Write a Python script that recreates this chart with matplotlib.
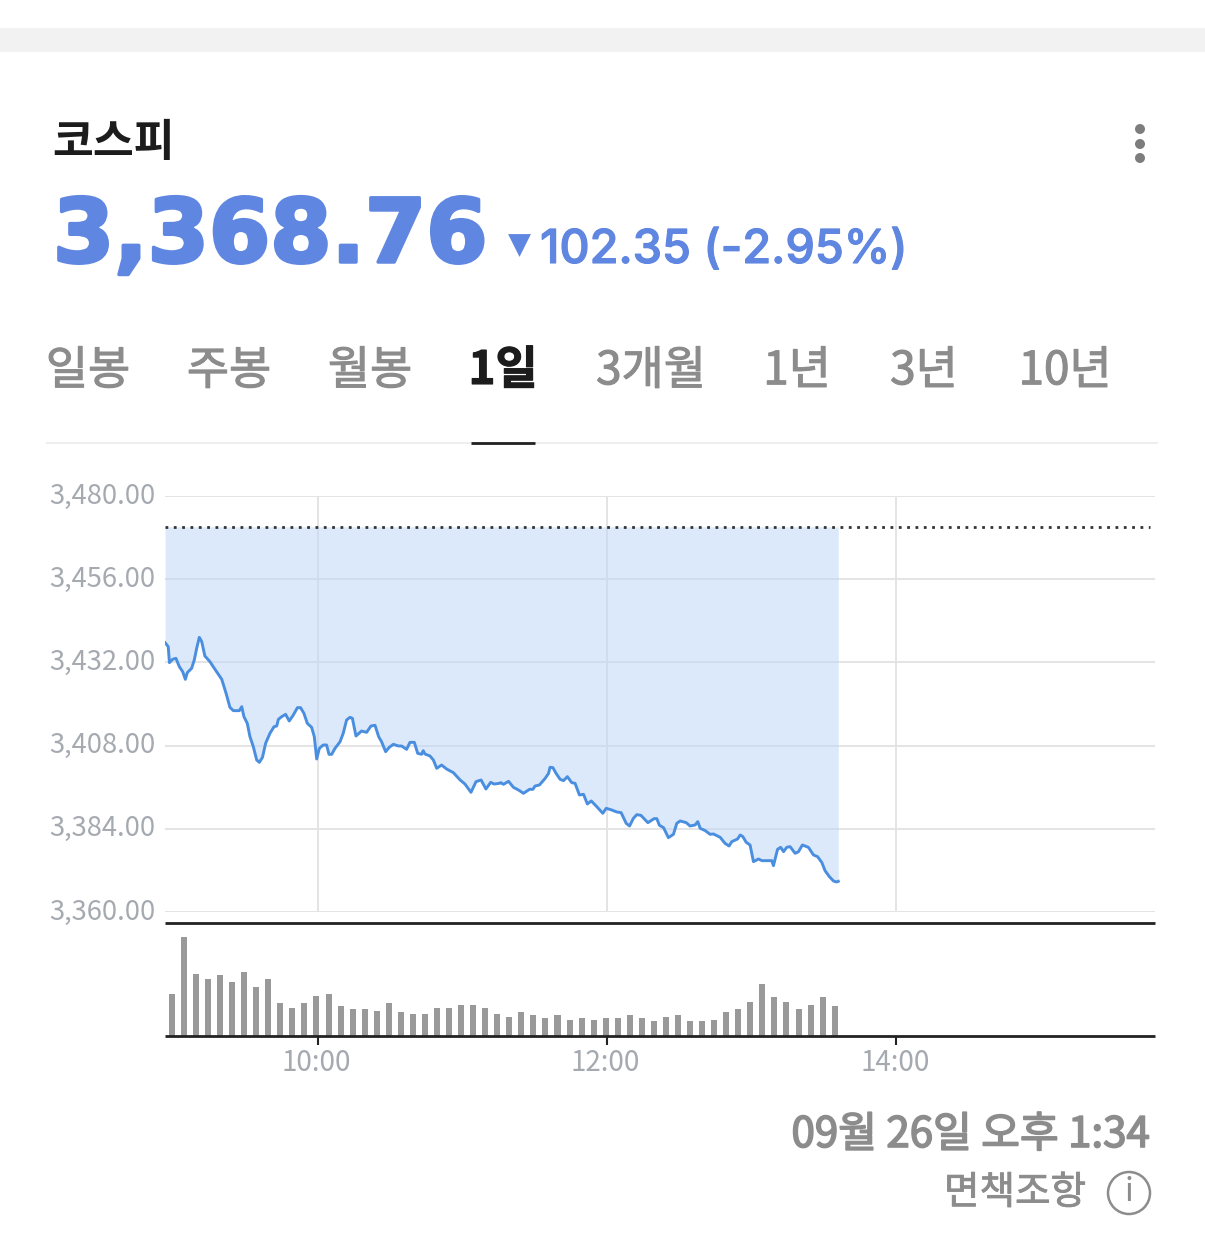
import numpy as np
import matplotlib.pyplot as plt
import matplotlib.patheffects as pe
from matplotlib.patches import Circle, Rectangle
from matplotlib.transforms import ScaledTranslation

plt.rcParams['font.family'] = ['Noto Sans CJK KR', 'DejaVu Sans']

# minutes after 09:00 and index level
price_t = [-3.4, -2.1, -1.6, -0.3, 1.1, 2.5, 3.9, 5.0, 5.8, 7.6, 8.7, 9.7, 10.8, 11.8, 13.1, 15.2, 17.3, 20.1,
           21.9, 23.5, 24.9, 27.4, 28.4, 29.3, 30.7, 31.8, 33.2, 34.6, 35.7, 37.0, 38.3, 40.1, 41.8, 42.9, 43.6,
           45.0, 46.6, 48.1, 49.8, 51.5, 52.8, 54.2, 55.6, 57.4, 58.5, 59.5, 60.6, 62.2, 63.6, 64.6, 65.7, 67.1,
           69.2, 70.5, 71.9, 73.3, 74.3, 75.8, 78.1, 80.2, 82.0, 83.7, 85.2, 86.4, 88.1, 89.6, 91.3, 93.4, 94.7,
           96.8, 98.2, 100.0, 101.4, 103.0, 103.7, 104.4, 106.5, 107.9, 109.3, 111.3, 113.4, 116.2, 119.0, 121.0,
           123.5, 125.6, 127.7, 129.7, 131.7, 133.1, 135.3, 135.9, 137.0, 139.1, 141.1, 143.2, 145.3, 147.8, 149.2,
           150.1, 151.9, 154.3, 155.7, 156.3, 157.5, 158.8, 160.5, 161.9, 163.5, 165.3, 166.7, 168.5, 170.2, 171.8,
           173.4, 175.7, 178.2, 179.6, 181.9, 184.0, 185.8, 187.9, 189.3, 190.9, 192.3, 194.0, 196.9, 199.5, 200.6,
           201.7, 203.4, 205.4, 207.5, 208.9, 210.3, 212.8, 214.4, 216.5, 217.6, 218.6, 220.7, 222.7, 224.1, 226.9,
           228.9, 230.6, 231.7, 234.1, 235.2, 236.3, 237.7, 239.3, 240.7, 242.8, 244.2, 246.2, 248.3, 249.0, 250.7,
           252.0, 253.2, 254.5, 255.9, 258.0, 259.4, 261.0, 263.5, 265.6, 267.3, 269.1, 270.4, 272.2, 273.9, 275.2,
           275.9]
price = [3437.69, 3436.54, 3431.92, 3432.88, 3433.17, 3430.77, 3429.33, 3427.12, 3429.04, 3430.29, 3432.69, 3436.06,
         3439.23, 3437.98, 3433.85, 3432.21, 3430.00, 3427.12, 3423.08, 3419.04, 3418.08, 3418.08, 3419.23, 3416.35,
         3414.42, 3410.58, 3407.69, 3403.85, 3403.17, 3404.62, 3408.65, 3411.54, 3413.46, 3413.65, 3415.58, 3416.35,
         3417.02, 3415.10, 3416.83, 3418.94, 3418.94, 3417.31, 3414.42, 3413.27, 3410.58, 3404.14, 3407.21, 3408.17,
         3408.17, 3405.48, 3405.48, 3407.21, 3409.13, 3411.54, 3415.39, 3416.15, 3415.87, 3410.77, 3412.21, 3411.83,
         3413.65, 3413.85, 3410.58, 3409.13, 3406.25, 3407.50, 3408.37, 3407.89, 3407.89, 3406.92, 3408.94, 3408.94,
         3405.77, 3405.48, 3406.54, 3405.58, 3405.00, 3403.85, 3401.44, 3402.40, 3401.25, 3400.19, 3398.08, 3396.92,
         3394.52, 3397.60, 3398.08, 3395.48, 3397.40, 3396.92, 3397.12, 3397.31, 3396.83, 3397.70, 3395.97, 3395.20,
         3394.24, 3395.39, 3395.39, 3396.35, 3396.64, 3398.56, 3400.00, 3401.74, 3401.64, 3400.00, 3398.27, 3397.89,
         3399.04, 3397.31, 3397.12, 3393.76, 3393.95, 3391.16, 3392.03, 3390.39, 3388.47, 3389.91, 3389.43, 3388.85,
         3388.66, 3385.58, 3384.81, 3387.02, 3388.08, 3387.89, 3385.77, 3386.93, 3386.93, 3385.00, 3384.33, 3381.45,
         3382.41, 3385.58, 3386.26, 3385.78, 3384.81, 3385.10, 3386.06, 3384.14, 3383.47, 3382.41, 3382.51, 3381.54,
         3379.81, 3379.04, 3380.29, 3381.06, 3382.22, 3381.74, 3380.10, 3379.33, 3374.53, 3375.29, 3374.81, 3374.81,
         3374.81, 3373.37, 3378.08, 3378.66, 3377.41, 3378.66, 3378.85, 3376.93, 3377.41, 3379.33, 3378.66, 3376.45,
         3375.97, 3374.24, 3371.93, 3370.20, 3368.95, 3368.66, 3368.85]
prev_close = 3471.11

# 5 minute volume bars, relative height
volume = [125, 297, 187, 170, 183, 161, 192, 148, 170, 98, 85, 98, 120, 125, 89, 80, 80, 76, 98, 71, 67, 67, 85, 85,
          93, 93, 85, 67, 58, 71, 62, 53, 62, 49, 53, 49, 53, 53, 62, 53, 44, 58, 62, 44, 44, 49, 71, 80, 102, 156,
          116, 102, 80, 93, 116, 89]
volume_t = [-0.6 + 5 * i for i in range(len(volume))]

y_ticks = [3360, 3384, 3408, 3432, 3456, 3480]
y_labels = ['3,360.00', '3,384.00', '3,408.00', '3,432.00', '3,456.00', '3,480.00']
x_ticks = [60, 180, 300]
x_labels = ['10:00', '12:00', '14:00']
tabs = ['일봉', '주봉', '월봉', '1일', '3개월', '1년', '3년', '10년']
tab_x = [88, 229, 370, 503, 651, 797, 924, 1065]

W, H = 1205, 1233
fig = plt.figure(figsize=(W / 100, H / 100), dpi=100)


def box(left, top, right, bottom):
    return [left / W, 1 - bottom / H, (right - left) / W, (bottom - top) / H]


def thick(color, w):
    return [pe.withStroke(linewidth=w, foreground=color)]


bg = fig.add_axes([0, 0, 1, 1])
bg.set_xlim(0, W)
bg.set_ylim(H, 0)
bg.axis('off')

bg.add_patch(Rectangle((0, 28), W, 24, color='#f2f2f2', lw=0))
bg.text(52, 143, '코스피', fontsize=32, fontweight='bold', color='#1c1c1c', va='center')
bg.text(53, 238, '3,368.76', fontsize=63.4, fontweight='bold', color='#5f86e0', va='center', family='DejaVu Sans',
        path_effects=thick('#5f86e0', 2.5))
bg.scatter([519], [245], marker='v', s=270, color='#5f86e0', lw=0)
bg.text(540, 251, '102.35 (-2.95%)', fontsize=33.7, fontweight='medium', color='#5f86e0', va='center', family='Inter',
        path_effects=thick('#5f86e0', 0.8))
for yy in [129, 144, 158]:
    bg.add_patch(Circle((1140, yy), 5, color='#7d7d7d', lw=0))

for i in range(len(tabs)):
    active = tabs[i] == '1일'
    c = '#1c1c1c' if active else '#8c8c8c'
    bg.text(tab_x[i], 371, tabs[i], fontsize=33, ha='center', va='center',
            fontweight='bold' if active else 'normal', color=c, path_effects=thick(c, 0.8))
bg.plot([47, 1157], [443, 443], color='#eeeeee', lw=1.5)
bg.plot([471, 535], [443, 443], color='#222222', lw=2, solid_capstyle='butt')

bg.text(1150, 1135, '09월 26일 오후 1:34', fontsize=30.3, color='#8c8c8c', ha='right', va='center',
        path_effects=thick('#8c8c8c', 1.2))
bg.text(1086, 1193, '면책조항', fontsize=27.8, color='#8c8c8c', ha='right', va='center',
        path_effects=thick('#8c8c8c', 0.6))
bg.add_patch(Circle((1129, 1193), 21, fc='none', ec='#8c8c8c', lw=1.8))
bg.text(1129, 1192, 'i', fontsize=23, color='#8c8c8c', ha='center', va='center')

x_min, x_max = -3.44, 407.3

ax = fig.add_axes(box(165, 496, 1155, 912))
ax.set_xlim(x_min, x_max)
ax.set_ylim(3360, 3480)
ax.patch.set_alpha(0)
for s in ax.spines.values():
    s.set_visible(False)
ax.set_yticks(y_ticks)
ax.set_yticklabels(y_labels, fontsize=19.7, color='#a5a9b0', fontweight='light')
ax.set_xticks(x_ticks)
ax.set_xticklabels([])
ax.tick_params(length=0, pad=7)
up = ScaledTranslation(0, 3 / 100, fig.dpi_scale_trans)
for lab in ax.get_yticklabels():
    lab.set_transform(lab.get_transform() + up)
ax.grid(color='#e4e4e4', lw=1.4)
ax.set_axisbelow(True)
ax.fill_between(price_t, price, prev_close, color='#bcd6f6', alpha=0.52, lw=0)
ax.plot(price_t, price, color='#4a8ee0', lw=2.1, solid_joinstyle='round')
ax.plot([x_min, x_max - 2], [prev_close, prev_close], color='#333333', lw=2, ls=(0, (1, 2)))

vol = fig.add_axes(box(165, 923, 1155, 1036))
vol.set_xlim(x_min, x_max)
vol.set_ylim(0, 339)
vol.patch.set_alpha(0)
vol.bar(volume_t, volume, width=2.5, color='#999999')
for s in ['left', 'right']:
    vol.spines[s].set_visible(False)
for s in ['top', 'bottom']:
    vol.spines[s].set_linewidth(2)
    vol.spines[s].set_color('#222222')
    vol.spines[s].set_capstyle('butt')
vol.set_yticks([])
vol.set_xticks(x_ticks)
vol.set_xticklabels(x_labels, fontsize=20, color='#a5a9b0', fontweight='light')
vol.tick_params(axis='x', length=6.5, width=1.5, color='#222222', pad=2)
left = ScaledTranslation(-1.5 / 100, 0, fig.dpi_scale_trans)
for lab in vol.get_xticklabels():
    lab.set_transform(lab.get_transform() + left)

fig.savefig('out.png', dpi=100)
